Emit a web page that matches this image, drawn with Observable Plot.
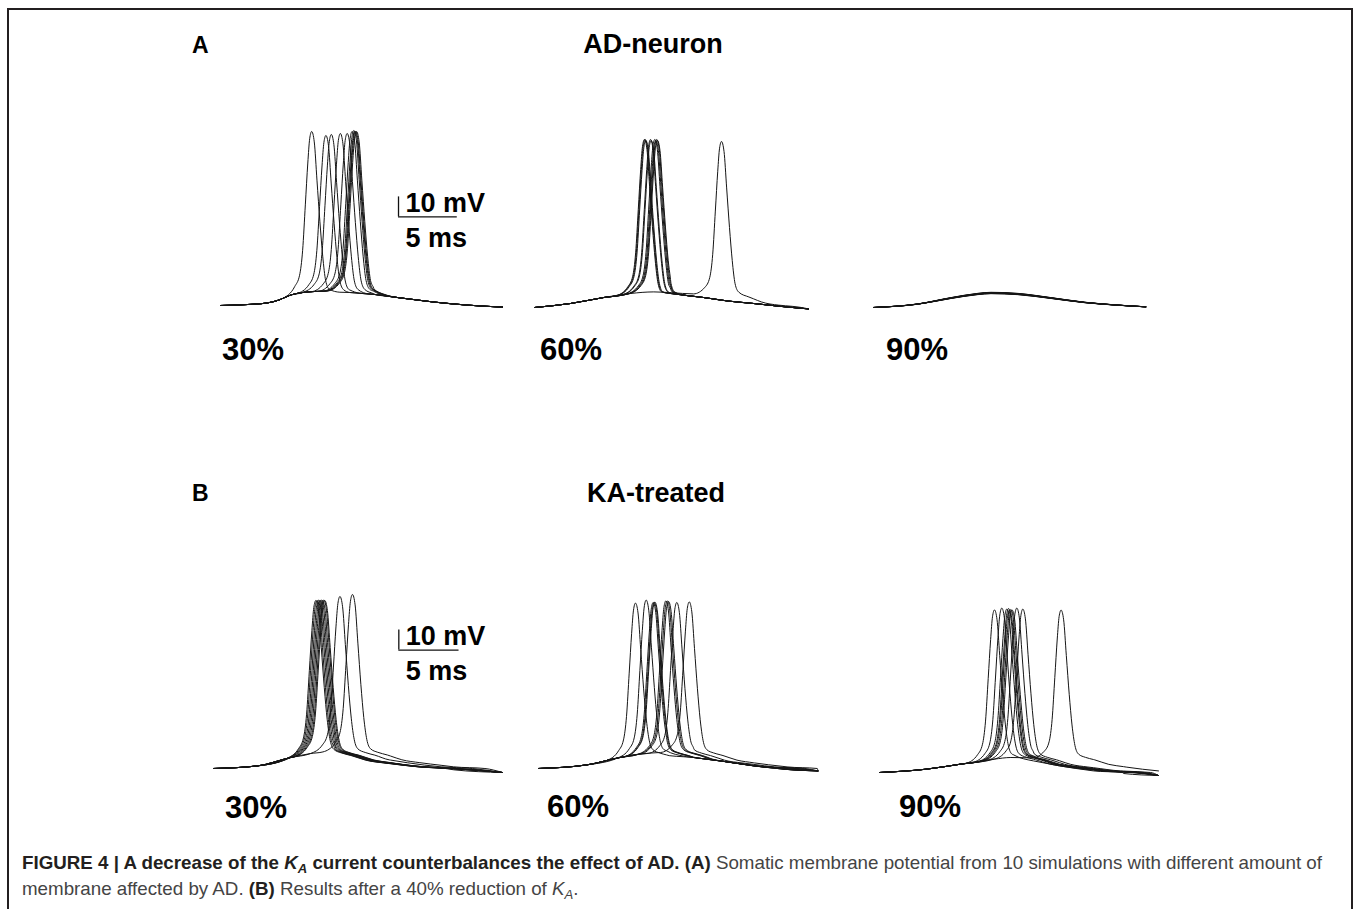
<!DOCTYPE html>
<html><head><meta charset="utf-8">
<script src="https://cdn.jsdelivr.net/npm/d3@7"></script>
<script src="https://cdn.jsdelivr.net/npm/@observablehq/plot@0.6"></script>
<style>
body{margin:0;background:#fff;}
#fig{position:relative;width:1354px;height:909px;overflow:hidden;font-family:"Liberation Sans",Arial,Helvetica,sans-serif;color:#000;}
#frame{position:absolute;left:6.5px;top:7.5px;width:1346px;height:960px;border:2.6px solid #231f20;border-bottom:none;box-sizing:border-box;}
.abs{position:absolute;white-space:nowrap;line-height:1;font-weight:bold;}
.panel{position:absolute;}
.panel svg{overflow:visible;}
#caption{position:absolute;left:22px;top:850px;font-family:"Liberation Sans Narrow","Arial Narrow","Liberation Sans",sans-serif;font-size:18.5px;line-height:26px;color:#444;}
#caption .ln{display:block;white-space:nowrap;transform-origin:0 50%;height:26px;}
#caption b{color:#231f20;}
#caption sub{font-size:70%;vertical-align:baseline;position:relative;top:0.3em;line-height:0;}
</style></head><body><div id="fig"><div id="frame"></div></div>
<script>
// ---------------- data ----------------
const durationMs = 24;
const rowLetters = ["A", "B"];
const rowTitles = ["AD-neuron", "KA-treated"];
const percentLabels = ["30%", "60%", "90%"];
const scaleBarMs = 5, scaleBarMv = 10;
const scaleBarLabels = ["10 mV", "5 ms"];

// spike upstroke: extra depolarisation above the subthreshold level [ms from peak, mV]
const spikeRise = [[-2.45,0],[-1.45,3.6],[-1.03,8.6],[-0.77,20.3],[-0.54,42],[-0.33,62],[-0.17,73.6],[0,77]];
// spike downstroke and after-potential [ms from peak, mV above rest], read for an 83.7 mV spike
const fallRefPeak = 83.7;
const spikeFallA = [[0.22,78.7],[0.45,60.3],[0.7,40.3],[0.94,23.7],[1.19,12],[1.5,7.8],[2.4,5.3],[3.5,2.8],[5,1.2],[7,0]];
const spikeFallB = [[0.22,78.7],[0.45,60.3],[0.7,40.3],[0.94,24.5],[1.19,14],[1.5,9.5],[2.1,7.8],[2.9,6.5],[4.1,4.2],[5.6,2.8],[8.4,0.8],[11,0]];

// A: AD-neuron
const preA30  = [[0,0],[2,0.4],[4,1.3],[5,2.8],[6,5.3],[7,6.5],[8,7],[10,7.5],[12,7.8]];
const postA30 = [[8,7],[11,6.5],[13,5.6],[15.3,3.8],[18.2,1.7],[21,0.2],[24,-0.8]];
const spikesA30 = [[7.76,87],[8.97,85],[9.43,85.5],[10.2,86],[10.78,86],[11.2,87],[11.35,87.5],[11.44,87],[11.5,87],[11.58,87]];

const preA60  = [[0,0],[3.15,2],[6.07,5],[8.4,7],[10.45,7.8],[12,7.4],[14.3,6.7],[17,6]];
const postA60 = [[9,7.5],[11.9,7],[14.8,5],[17,3.2],[19.2,2],[21.5,0.6],[24,-0.7]];
const spikesA60 = [[9.63,84],[9.69,84],[9.75,83.5],[10.16,84],[10.22,83.5],[10.54,84],[10.63,83.5],[10.71,84],[10.77,83.5],[16.38,83]];

const epspA90 = [[0,0],[3.88,1.67],[6.83,4.67],[9.18,6.67],[10.35,7.17],[12.7,6.67],[15.65,4.67],[18.6,2.5],[21.5,1.17],[24,0.33]];
const epspPeaksA90 = [7.0,7.2,7.4,7.1,7.3,7.5,7.2,6.9,7.3,7.6];

// B: KA-treated
const preB30  = [[0,0],[3.65,1.3],[6.42,5.5],[8.08,7.5],[9.74,8.8],[11,10],[12,10.5]];
const postB30 = [[8,7],[10,6.5],[12,4.8],[14.7,2.2],[18.9,-0.3],[24,-2]];
const spikesB30 = [[8.5,84],[8.6,84],[8.72,84.2],[8.83,84],[8.94,84.3],[9.05,84],[9.16,84.2],[9.24,84],[10.5,86],[11.54,87]];

const preB60  = [[0,0],[4.15,1.8],[7,5.5],[8.7,7.2],[10.45,8],[12,8.5],[13,8.8]];
const postB60 = [[9,7],[11,6.5],[13.3,5.5],[15.6,3.8],[18.5,1.3],[21,-0.3],[24,-1.2]];
const spikesB60 = [[8.33,82.7],[9.25,84.2],[9.85,83],[9.94,83],[10.0,83.2],[10.94,83.8],[11.06,83.8],[11.17,83.5],[11.88,83],[12.95,83.3]];

const preB90  = [[0,0],[4.08,1.7],[7,4.2],[9.89,6.7],[11.3,7.5],[13.3,7.3],[15,7]];
const postB90 = [[10,7],[11.5,6.8],[13.24,5.8],[15.5,3.3],[18.4,0.8],[21,-0.5],[24,-1.5]];
const spikesB90 = [[9.89,81.3],[10.52,82.2],[10.95,81.7],[11.1,82],[11.18,81.2],[11.3,81.5],[11.41,81.2],[11.81,82.2],[12.33,81.7],[15.62,81.2]];

// ---------------- layout (pixels) ----------------
const layout = [
  {row:0, col:0, left:220,   width:282,   baseline:304.5, label:[222,339], pre:preA30, post:postA30, spikes:spikesA30, fall:spikeFallA, bar:{t:15.15, v:44.3}},
  {row:0, col:1, left:534,   width:274,   baseline:306.7, label:[540,339], pre:preA60, post:postA60, spikes:spikesA60, fall:spikeFallA},
  {row:0, col:2, left:872.7, width:272.3, baseline:306.7, label:[886,339], epsp:epspA90, peaks:epspPeaksA90},
  {row:1, col:0, left:212.7, width:289,   baseline:767.7, label:[225,797], pre:preB30, post:postB30, spikes:spikesB30, fall:spikeFallB, bar:{t:15.39, v:59.2}},
  {row:1, col:1, left:538.3, width:279.4, baseline:767.7, label:[547,796], pre:preB60, post:postB60, spikes:spikesB60, fall:spikeFallB},
  {row:1, col:2, left:879.3, width:279,   baseline:771.7, label:[899,796], pre:preB90, post:postB90, spikes:spikesB90, fall:spikeFallB}
];
const titleLayout = [
  {letter:[192,37], title:[653,35]},
  {letter:[192,485], title:[656,484]}
];
const pxPerMv = 2, yTop = 95, yBottom = -10;

// ---------------- helpers ----------------
function interp(arr, t) {
  if (t <= arr[0][0]) return arr[0][1];
  for (let i = 1; i < arr.length; i++) {
    if (t <= arr[i][0]) {
      const [t0, v0] = arr[i-1], [t1, v1] = arr[i];
      return v0 + (v1 - v0) * (t - t0) / (t1 - t0);
    }
  }
  return arr[arr.length-1][1];
}
function spikeTrace(p, tpk, peak, id) {
  const base = interp(p.pre, tpk);
  const k = (peak - base) / spikeRise[spikeRise.length-1][1];
  const r0 = tpk + spikeRise[0][0];
  const pts = [];
  for (const [t, v] of p.pre) if (t < r0) pts.push([t, v]);
  for (const [dt, e] of spikeRise) pts.push([tpk + dt, interp(p.pre, tpk + dt) + e * k]);
  const f = p.fall, fEnd = tpk + f[f.length-1][0], g = peak / fallRefPeak;
  const after = new Set();
  for (const [dt] of f) after.add(+(tpk + dt).toFixed(4));
  for (const [t] of p.post) if (t > tpk + 1.0) after.add(t);
  for (const t of [...after].sort((a, b) => a - b)) {
    if (t > durationMs) continue;
    const fv = t <= fEnd ? interp(f, t - tpk) * g : -Infinity;
    pts.push([t, Math.max(fv, interp(p.post, t))]);
  }
  return pts.map(([t, v]) => ({id, t, v}));
}

const fig = document.getElementById("fig");
function addText(txt, x, capTop, fs, anchor) {
  const d = document.createElement("div");
  d.className = "abs";
  d.textContent = txt;
  d.style.fontSize = fs + "px";
  d.style.top = (capTop - 0.13 * fs) + "px";
  d.style.left = x + "px";
  if (anchor === "middle") d.style.transform = "translateX(-50%)";
  fig.appendChild(d);
}

titleLayout.forEach((L, r) => {
  addText(rowLetters[r], L.letter[0], L.letter[1], 23, "start");
  addText(rowTitles[r], L.title[0], L.title[1], 27, "middle");
});

for (const p of layout) {
  let data = [];
  if (p.spikes) p.spikes.forEach(([t, pk], i) => { data = data.concat(spikeTrace(p, t, pk, i)); });
  else {
    const ref = d3.max(p.epsp, d => d[1]);
    p.peaks.forEach((pk, i) => { data = data.concat(p.epsp.map(([t, v]) => ({id: i, t, v: v * pk / ref}))); });
  }
  const marks = [
    Plot.line(data, {x: "t", y: "v", z: "id", curve: "monotone-x", stroke: "#151515", strokeWidth: 1})
  ];
  if (p.bar) {
    const b = p.bar;
    const txt = {x: () => b.t, y: () => b.v, text: d => d, dx: 7, textAnchor: "start", lineAnchor: "middle", fontSize: 27, fontWeight: "bold", fill: "#000"};
    marks.push(
      Plot.ruleX([b.t], {y1: b.v, y2: b.v + scaleBarMv, stroke: "#111", strokeWidth: 1.3}),
      Plot.ruleY([b.v], {x1: b.t, x2: b.t + scaleBarMs, stroke: "#111", strokeWidth: 1.3}),
      Plot.text([scaleBarLabels[0]], {...txt, dy: -14}),
      Plot.text([scaleBarLabels[1]], {...txt, dy: 21})
    );
  }
  const height = (yTop - yBottom) * pxPerMv;
  const chart = Plot.plot({
    width: p.width, height, margin: 0,
    x: {domain: [0, durationMs], axis: null},
    y: {domain: [yBottom, yTop], axis: null},
    style: {background: "transparent", fontFamily: "'Liberation Sans', Arial, sans-serif", overflow: "visible"},
    marks
  });
  const wrap = document.createElement("div");
  wrap.className = "panel";
  wrap.style.left = p.left + "px";
  wrap.style.top = (p.baseline - yTop * pxPerMv) + "px";
  wrap.appendChild(chart);
  fig.appendChild(wrap);
  addText(percentLabels[p.col], p.label[0], p.label[1] - 1, 31, "start");
}

// caption
const cap = document.createElement("div");
cap.id = "caption";
cap.innerHTML =
  '<span class="ln" id="l1"><b>FIGURE 4 | A decrease of the <i>K<sub>A</sub></i> current counterbalances the effect of AD. (A)</b> Somatic membrane potential from 10 simulations with different amount of</span>' +
  '<span class="ln" id="l2">membrane affected by AD. <b>(B)</b> Results after a 40% reduction of <i>K<sub>A</sub></i>.</span>';
fig.appendChild(cap);
const l1 = document.getElementById("l1"), l2 = document.getElementById("l2");
l1.style.display = "inline-block"; l2.style.display = "inline-block";
const w1 = l1.getBoundingClientRect().width;
const s = 1300 / w1;
l1.style.display = "block"; l2.style.display = "block";
l1.style.width = "max-content"; l2.style.width = "max-content";
l1.style.transform = `scaleX(${s})`; l2.style.transform = `scaleX(${s})`;
</script>
</body></html>
